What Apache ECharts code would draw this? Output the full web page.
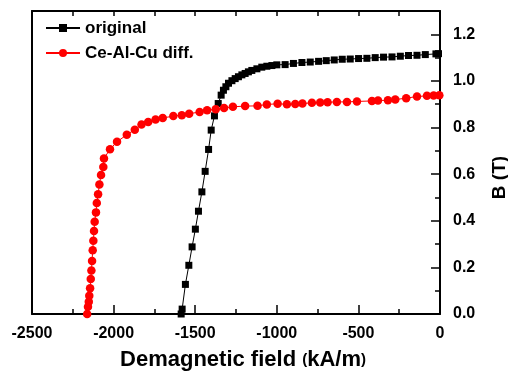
<!DOCTYPE html>
<html>
<head>
<meta charset="utf-8">
<script src="https://cdn.jsdelivr.net/npm/echarts@6/dist/echarts.min.js"></script>
<style>html,body{margin:0;padding:0;background:#fff;}#c{width:508px;height:371px;}</style>
</head>
<body>
<div id="c"></div>
<script>
var seriesNames = ['original', 'Ce-Al-Cu diff.'];
var xTitle = 'Demagnetic field ';
var xUnit = 'kA/m';
var yTitle = 'B (T)';

var origX = [-1586,-1580,-1560,-1539,-1519,-1499,-1480,-1459,-1439,-1418,-1402,-1382,-1359,-1341,-1327,-1312,-1296,-1275,-1255,-1235,-1214,-1194,-1174,-1153,-1122,-1092,-1061,-1030,-1000,-949,-898,-846,-795,-744,-697,-648,-599,-550,-499,-448,-397,-346,-294,-243,-193,-141,-90,-25,-9];
var origY = [0.0,0.021,0.127,0.209,0.288,0.364,0.441,0.524,0.612,0.706,0.789,0.850,0.903,0.939,0.960,0.975,0.990,1.001,1.010,1.018,1.026,1.032,1.039,1.045,1.052,1.059,1.063,1.066,1.069,1.070,1.075,1.079,1.081,1.084,1.087,1.090,1.093,1.094,1.096,1.097,1.100,1.102,1.103,1.106,1.109,1.110,1.113,1.116,1.117];

var diffX = [-2162,-2157,-2152,-2149,-2144,-2140,-2136,-2132,-2128,-2124,-2120,-2116,-2108,-2103,-2095,-2087,-2077,-2063,-2059,-2022,-1979,-1919,-1870,-1829,-1788,-1743,-1699,-1634,-1582,-1537,-1473,-1427,-1374,-1323,-1269,-1194,-1118,-1061,-995,-938,-887,-843,-785,-734,-689,-632,-570,-509,-417,-380,-319,-274,-207,-141,-80,-39,-4];
var diffY = [0.0,0.031,0.053,0.078,0.110,0.150,0.187,0.227,0.274,0.314,0.356,0.396,0.436,0.476,0.514,0.556,0.596,0.631,0.667,0.707,0.739,0.769,0.791,0.813,0.824,0.834,0.841,0.849,0.853,0.859,0.867,0.874,0.879,0.884,0.889,0.892,0.893,0.899,0.902,0.900,0.901,0.903,0.906,0.907,0.909,0.910,0.910,0.912,0.914,0.916,0.917,0.920,0.926,0.933,0.936,0.937,0.939];

function pairs(xs, ys){ return xs.map(function(x,i){ return [x, ys[i]]; }); }

var FONT = 'Liberation Sans, Arial, sans-serif';
var chart = echarts.init(document.getElementById('c'), null, {renderer:'canvas'});
chart.setOption({
  animation: false,
  backgroundColor: '#fff',
  grid: {left: 32, right: 68, top: 11, bottom: 57, containLabel: false, outerBoundsMode: 'none'},
  legend: {
    left: 40, top: 13, orient: 'vertical',
    itemWidth: 34, itemHeight: 10, itemGap: 5,
    textStyle: {fontFamily: FONT, fontWeight: 'bold', fontSize: 17, color: '#000', lineHeight: 20},
    data: seriesNames
  },
  xAxis: [{
    type: 'value', position: 'bottom', min: -2500, max: 0, interval: 500,
    axisLine: {onZero: false, lineStyle: {color: '#000', width: 2}},
    axisTick: {inside: true, length: 9, lineStyle: {color: '#000', width: 1.5}},
    minorTick: {show: true, splitNumber: 2, length: 5, lineStyle: {color: '#000', width: 1.5}},
    splitLine: {show: false},
    axisLabel: {margin: 12, color: '#000', fontFamily: FONT, fontWeight: 'bold', fontSize: 16,
      formatter: function(v){ return String(v); }},
    name: '', nameLocation: 'middle'
  },{
    type: 'value', position: 'top', min: -2500, max: 0, interval: 250,
    axisLine: {onZero: false, lineStyle: {color: '#000', width: 2}},
    axisTick: {show: true, inside: true, length: 5, lineStyle: {color: '#000', width: 1.5}},
    axisLabel: {show: false}, splitLine: {show: false}
  }],
  yAxis: [{
    type: 'value', position: 'right', min: 0, max: 1.3, interval: 0.2,
    axisLine: {show: true, onZero: false, lineStyle: {color: '#000', width: 2}},
    axisTick: {inside: true, length: 9, lineStyle: {color: '#000', width: 1.5}},
    minorTick: {show: true, splitNumber: 2, length: 5, lineStyle: {color: '#000', width: 1.5}},
    splitLine: {show: false},
    axisLabel: {margin: 13, color: '#000', fontFamily: FONT, fontWeight: 'bold', fontSize: 16, showMaxLabel: false,
      formatter: function(v){ return v.toFixed(1); }},
    name: yTitle, nameLocation: 'middle', nameRotate: 90, nameGap: 50,
    nameTextStyle: {color: '#000', fontFamily: FONT, fontWeight: 'bold', fontSize: 19, padding: [0, 30, 0, 0]}
  },{
    type: 'value', position: 'left', min: 0, max: 1.3,
    axisLine: {show: true, onZero: false, lineStyle: {color: '#000', width: 2}},
    axisTick: {show: false}, axisLabel: {show: false}, splitLine: {show: false}
  }],
  series: [{
    name: seriesNames[0], type: 'line', xAxisIndex: 0, yAxisIndex: 0,
    data: pairs(origX, origY),
    symbol: 'rect', symbolSize: 7, showAllSymbol: true,
    lineStyle: {color: '#000', width: 1}, itemStyle: {color: '#000'}
  },{
    name: seriesNames[1], type: 'line', xAxisIndex: 0, yAxisIndex: 0,
    data: pairs(diffX, diffY),
    symbol: 'circle', symbolSize: 8.5, showAllSymbol: true,
    lineStyle: {color: '#ff0000', width: 1}, itemStyle: {color: '#ff0000'}
  }]
});
chart.setOption({
  xAxis: [{
    name: xTitle + '{p|(}' + xUnit + '{p|)}', nameGap: 35,
    nameTextStyle: {color: '#000', fontFamily: FONT, fontWeight: 'bold', fontSize: 22, padding: [0, 0, 0, 14],
      rich: {p: {fontFamily: FONT, fontWeight: 'bold', fontSize: 15, color: '#000'}}}
  }, {}]
});
</script>
</body>
</html>
